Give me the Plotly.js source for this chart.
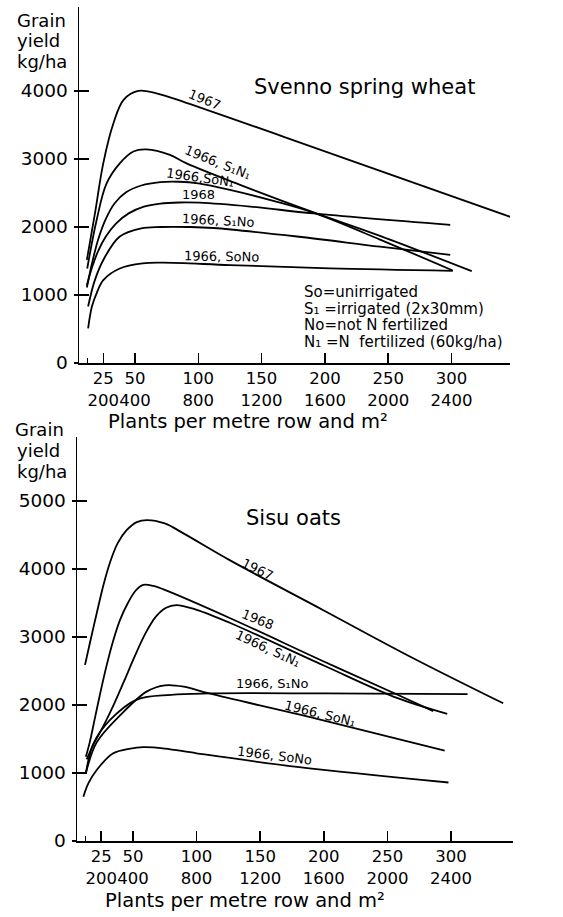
<!DOCTYPE html>
<html><head><meta charset="utf-8">
<script src="https://cdn.plot.ly/plotly-3.0.1.min.js"></script>
<style>html,body{margin:0;padding:0;background:#fff}#chart{width:563px;height:917px}</style>
</head><body><div id="chart"></div>
<script>
// ---------- Tick labels ----------
const tickPlants = [25, 50, 100, 150, 200, 250, 300];
const tickPerM2 = [200, 400, 800, 1200, 1600, 2000, 2400];
const wheatYTicks = [0, 1000, 2000, 3000, 4000];
const oatsYTicks = [0, 1000, 2000, 3000, 4000, 5000];

// ---------- Svenno spring wheat (plants per metre row, kg/ha) ----------
const w1967X = [12, 18.4, 25, 33, 41, 52.6, 67, 90, 167, 354];
const w1967Y = [1515, 2200, 2940, 3525, 3870, 4000, 3965, 3830, 3330, 2100];
const wS1N1X = [12.3, 19.7, 27.6, 38, 48.7, 59, 77.6, 90.8, 133, 191, 243.5, 316];
const wS1N1Y = [1390, 2100, 2640, 2935, 3110, 3140, 3060, 2935, 2620, 2215, 1870, 1350];
const wSoN1X = [12, 16, 21, 27, 34, 43, 55, 70, 85, 100, 125, 160, 191, 243.5, 301];
const wSoN1Y = [1110, 1460, 1820, 2120, 2350, 2510, 2610, 2660, 2665, 2640, 2545, 2380, 2210, 1815, 1360];
const w1968X = [12, 16, 21, 27, 35, 45, 57, 70, 85, 101, 141, 191, 299];
const w1968Y = [1140, 1400, 1650, 1860, 2050, 2200, 2300, 2345, 2360, 2357, 2300, 2200, 2030];
const wS1NoX = [13, 18, 25, 38, 55, 70, 93, 112, 178, 243.5, 299];
const wS1NoY = [830, 1200, 1515, 1860, 1980, 2000, 2000, 1985, 1860, 1710, 1590];
const wSoNoX = [13, 16, 20, 25, 38, 56, 72, 125, 204, 301];
const wSoNoY = [510, 830, 1040, 1220, 1390, 1465, 1475, 1440, 1390, 1355];

// ---------- Sisu oats ----------
const o1967X = [12.3, 16, 21.5, 27, 32, 38, 45, 53, 61, 75, 90, 126, 200, 268, 341];
const o1967Y = [2590, 2900, 3350, 3780, 4100, 4380, 4570, 4690, 4720, 4670, 4520, 4130, 3390, 2710, 2025];
const o1968X = [13, 16, 20, 24, 29, 34.5, 40, 46, 52, 58, 66, 74, 126, 200, 258, 286];
const o1968Y = [1240, 1450, 1800, 2150, 2560, 2950, 3260, 3500, 3680, 3765, 3750, 3700, 3280, 2640, 2150, 1910];
const oS1N1X = [13.6, 19, 27, 35, 43, 51, 60, 68, 76, 84, 100, 126, 200, 258, 297];
const oS1N1Y = [1200, 1420, 1700, 2010, 2350, 2700, 3060, 3300, 3430, 3470, 3400, 3210, 2580, 2100, 1870];
const oS1NoX = [13, 19, 32, 53, 80, 110, 200, 313];
const oS1NoY = [1000, 1435, 1780, 2080, 2150, 2170, 2170, 2160];
const oSoN1X = [13, 21.5, 40, 61, 75, 90, 110, 194, 295];
const oSoN1Y = [1000, 1450, 1850, 2200, 2290, 2270, 2170, 1800, 1330];
const oSoNoX = [11, 15, 21.5, 34.5, 48, 58, 75, 100, 179, 298];
const oSoNoY = [650, 850, 1045, 1290, 1360, 1380, 1360, 1290, 1090, 860];

const FONT = 'DejaVu Sans, Liberation Sans, sans-serif';
const W = 563, H = 917;
const px = v => v / W, py = v => 1 - v / H;

function mk(x, y, xa, ya) {
  return {x: x, y: y, xaxis: xa, yaxis: ya, type: 'scatter', mode: 'lines',
    line: {color: '#000', width: 1.8, shape: 'spline', smoothing: 1}, showlegend: false, hoverinfo: 'skip'};
}

// y3 / y4 overlay y / y2 with identical ranges; they only add the outer half of the y ticks
const data = [
  mk(w1967X, w1967Y, 'x', 'y'), mk(wS1N1X, wS1N1Y, 'x', 'y'), mk(wSoN1X, wSoN1Y, 'x', 'y'),
  mk(w1968X, w1968Y, 'x', 'y'), mk(wS1NoX, wS1NoY, 'x', 'y'), mk(wSoNoX, wSoNoY, 'x', 'y3'),
  mk(o1967X, o1967Y, 'x2', 'y2'), mk(o1968X, o1968Y, 'x2', 'y2'), mk(oS1N1X, oS1N1Y, 'x2', 'y2'),
  mk(oS1NoX, oS1NoY, 'x2', 'y2'), mk(oSoN1X, oSoN1Y, 'x2', 'y2'), mk(oSoNoX, oSoNoY, 'x2', 'y4')
];

const xTickText = tickPlants.map((v, i) => v + '<br>' + tickPerM2[i]);

function xAxis(domain, range, anchor) {
  return {domain: domain, range: range, anchor: anchor, showgrid: false, zeroline: false,
    showline: true, linecolor: '#000', linewidth: 1.5,
    ticks: 'inside', ticklen: 10, tickwidth: 1.5, tickcolor: '#000',
    tickmode: 'array', tickvals: tickPlants, ticktext: xTickText, tickangle: 0,
    tickfont: {family: FONT, size: 16.5, color: '#000'},
    minor: {tickmode: 'array', tickvals: [12.5], ticks: 'inside', ticklen: 5, tickwidth: 1.2, tickcolor: '#000', showgrid: false},
    fixedrange: true};
}
function yAxis(domain, range, anchor, vals) {
  return {domain: domain, range: range, anchor: anchor, showgrid: false, zeroline: false,
    showline: true, linecolor: '#000', linewidth: 1.5,
    ticks: 'inside', ticklen: 10, tickwidth: 1.5, tickcolor: '#000',
    tickmode: 'array', tickvals: vals, ticktext: vals.map(String),
    ticklabelstandoff: 6,
    tickfont: {family: FONT, size: 18.5, color: '#000'}, fixedrange: true};
}
function yOuter(over, range, pos, vals) {
  return {overlaying: over, range: range, anchor: 'free', position: pos, side: 'left',
    showgrid: false, zeroline: false, showline: false,
    ticks: 'outside', ticklen: 5, tickwidth: 1.5, tickcolor: '#000',
    tickmode: 'array', tickvals: vals, showticklabels: false, fixedrange: true};
}

const wheatYRange = [0, 5235];
const oatsYRange = [0, 5941];

function lab(text, x, y, xr, yr, ang, size) {
  return {text: text, x: x, y: y, xref: xr, yref: yr, showarrow: false, textangle: ang,
    font: {family: FONT, size: size || 13, color: '#000'}, xanchor: 'center', yanchor: 'middle'};
}
function ptext(text, x, y, size, xanchor) {
  return {text: text, x: px(x), y: py(y), xref: 'paper', yref: 'paper', showarrow: false,
    font: {family: FONT, size: size, color: '#000'}, xanchor: xanchor || 'center', yanchor: 'middle', align: 'left'};
}

const annotations = [
  // y-axis titles
  ptext('Grain', 15, 20, 18, 'left'), ptext('yield', 15, 41, 18, 'left'), ptext('kg/ha', 15, 61, 18, 'left'),
  ptext('Grain', 13, 430, 18, 'left'), ptext('yield', 15, 450, 18, 'left'), ptext('kg/ha', 15, 471, 18, 'left'),
  // chart titles
  ptext('Svenno spring wheat', 364, 87, 21),
  ptext('Sisu oats', 293, 518, 21),
  // x titles
  ptext('Plants per metre row and m²', 248, 421, 19.5),
  ptext('Plants per metre row and m²', 245, 900, 19.5),
  // notes
  ptext('So=unirrigated', 302, 292, 15, 'left'),
  ptext('S₁ =irrigated (2x30mm)', 302, 308.5, 15, 'left'),
  ptext('No=not N fertilized', 302, 325, 15, 'left'),
  ptext('N₁ =N  fertilized (60kg/ha)', 302, 341.5, 15, 'left'),
  // wheat curve labels
  lab('1967', 104.7, 3870, 'x', 'y', 22),
  lab('1966, S₁N₁', 115.5, 2950, 'x', 'y', 22),
  lab('1966,SoN₁', 101, 2725, 'x', 'y', 8),
  lab('1968', 100.5, 2480, 'x', 'y', 0),
  lab('1966, S₁No', 116.3, 2100, 'x', 'y', 3),
  lab('1966, SoNo', 118.7, 1560, 'x', 'y', 1),
  // oats curve labels
  lab('1967', 148, 3995, 'x2', 'y2', 26),
  lab('1968', 148, 3250, 'x2', 'y2', 22),
  lab('1966, S₁N₁', 156, 2824, 'x2', 'y2', 25),
  lab('1966, S₁No', 160, 2315, 'x2', 'y2', 0),
  lab('1966, SoN₁', 197, 1882, 'x2', 'y2', 14),
  lab('1966, SoNo', 161, 1255, 'x2', 'y2', 7)
];

const layout = {
  width: W, height: H, margin: {l: 0, r: 0, t: 0, b: 0},
  paper_bgcolor: '#fff', plot_bgcolor: 'rgba(0,0,0,0)', showlegend: false, hovermode: false,
  font: {family: FONT, color: '#000'},
  xaxis: xAxis([px(79), px(510)], [5.8, 346.2], 'y'),
  yaxis: yAxis([py(363), py(7)], wheatYRange, 'x', wheatYTicks),
  yaxis3: yOuter('y', wheatYRange, px(79), wheatYTicks),
  xaxis2: xAxis([px(77), px(513)], [6, 348.7], 'y2'),
  yaxis2: yAxis([py(841), py(437)], oatsYRange, 'x2', oatsYTicks),
  yaxis4: yOuter('y2', oatsYRange, px(77), oatsYTicks),
  annotations: annotations
};

Plotly.newPlot('chart', data, layout, {staticPlot: true, displayModeBar: false});
</script></body></html>
